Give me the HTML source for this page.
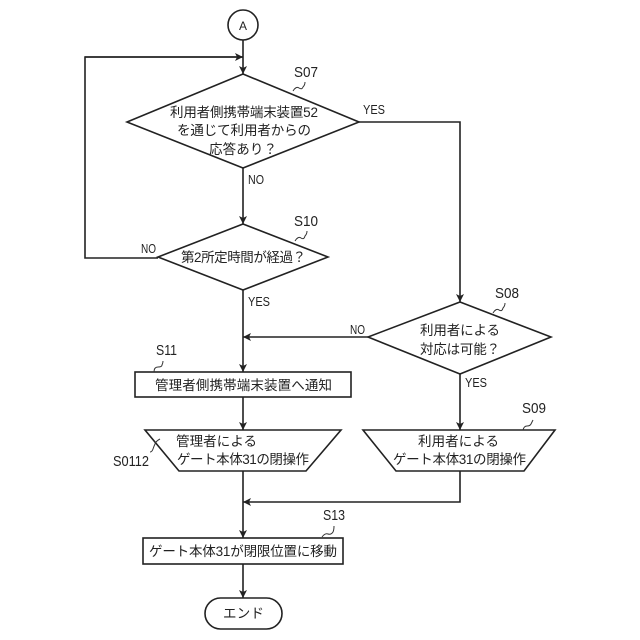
<!DOCTYPE html>
<html><head><meta charset="utf-8"><style>
html,body{margin:0;padding:0;background:#fff}
svg{display:block}
text{font-family:"Liberation Sans","Noto Sans CJK JP",sans-serif;font-size:13.5px;fill:#222}
.s{font-size:15px}
.l{font-size:13px}
.g{fill:none;stroke:#333;stroke-width:1}
.n{fill:#fff;stroke:#222;stroke-width:1.6}
.c{fill:none;stroke:#222;stroke-width:1.6}
</style></head><body>
<svg width="640" height="640" viewBox="0 0 640 640" xmlns="http://www.w3.org/2000/svg">
<defs><marker id="a" markerUnits="userSpaceOnUse" markerWidth="10" markerHeight="10" refX="8" refY="4" orient="auto"><path d="M0 0L8 4L0 8L2 4Z" fill="#222"/></marker></defs>
<path class="c" d="M243 40V74" marker-end="url(#a)"/>
<path class="c" d="M243 57H85V258H158"/>
<path class="c" d="M85 57H243" marker-end="url(#a)"/>
<path class="c" d="M243 168V224" marker-end="url(#a)"/>
<path class="c" d="M359 122H460V302" marker-end="url(#a)"/>
<path class="c" d="M243 290V372" marker-end="url(#a)"/>
<path class="c" d="M368 337H243" marker-end="url(#a)"/>
<path class="c" d="M243 397V430" marker-end="url(#a)"/>
<path class="c" d="M460 374V430" marker-end="url(#a)"/>
<path class="c" d="M243 471V538" marker-end="url(#a)"/>
<path class="c" d="M460 471V502H243" marker-end="url(#a)"/>
<path class="c" d="M243 564V598" marker-end="url(#a)"/>
<circle class="n" cx="243" cy="25" r="15"/>
<polygon class="n" points="243,74 359,122 243,168 127,122"/>
<polygon class="n" points="243,224 328,257 243,290 158,257"/>
<polygon class="n" points="460,302 551,337 460,374 368,337"/>
<rect class="n" x="135" y="372" width="216" height="25"/>
<polygon class="n" points="145,430 341,430 306,471 179,471"/>
<polygon class="n" points="363,430 555,430 524,471 396,471"/>
<rect class="n" x="143" y="538" width="200" height="26"/>
<rect class="n" x="205" y="598" width="77" height="31" rx="15.5"/>
<path class="g" d="M293 91q3-5 6-3t4-1q2-2 2-5"/>
<path class="g" d="M295 241q3-5 6-3t4-2q2-2 2-5"/>
<path class="g" d="M493 313q3-5 6-3t4-2q2-2 2-5"/>
<path class="g" d="M154 372q0-5 4-5t4-2q1-2 1-4"/>
<path class="g" d="M150 452q2 0 3-3t2-5q1-3 5-5"/>
<path class="g" d="M523 430q1-4 4-4t4-2q1-2 2-4"/>
<path class="g" d="M322 537q3-4 6-3t5-2q1-2 1-6"/>
<text x="239" y="30" style="font-size:12px" textLength="8" lengthAdjust="spacingAndGlyphs">A</text>
<text class="s" x="294" y="77" textLength="24" lengthAdjust="spacingAndGlyphs">S07</text>
<text class="s" x="294" y="226" textLength="24" lengthAdjust="spacingAndGlyphs">S10</text>
<text class="s" x="495" y="298" textLength="24" lengthAdjust="spacingAndGlyphs">S08</text>
<text class="s" x="156" y="355" textLength="21" lengthAdjust="spacingAndGlyphs">S11</text>
<text class="s" x="113" y="466" textLength="36" lengthAdjust="spacingAndGlyphs">S0112</text>
<text class="s" x="522" y="413" textLength="24" lengthAdjust="spacingAndGlyphs">S09</text>
<text class="s" x="323" y="520" textLength="22" lengthAdjust="spacingAndGlyphs">S13</text>
<text class="l" x="363" y="114" textLength="22" lengthAdjust="spacingAndGlyphs">YES</text>
<text class="l" x="248" y="184" textLength="16" lengthAdjust="spacingAndGlyphs">NO</text>
<text class="l" x="141" y="253" textLength="15" lengthAdjust="spacingAndGlyphs">NO</text>
<text class="l" x="248" y="306" textLength="22" lengthAdjust="spacingAndGlyphs">YES</text>
<text class="l" x="350" y="334" textLength="15" lengthAdjust="spacingAndGlyphs">NO</text>
<text class="l" x="465" y="387" textLength="22" lengthAdjust="spacingAndGlyphs">YES</text>
<text x="170" y="117" textLength="148">利用者側携帯端末装置52</text>
<text x="177" y="135" textLength="134">を通じて利用者からの</text>
<text x="209" y="154" textLength="68">応答あり？</text>
<text x="181" y="262" textLength="125">第2所定時間が経過？</text>
<text x="420" y="335" textLength="80">利用者による</text>
<text x="420" y="354" textLength="80">対応は可能？</text>
<text x="155" y="390" textLength="177">管理者側携帯端末装置へ通知</text>
<text x="176" y="446" textLength="81">管理者による</text>
<text x="177" y="464" textLength="132">ゲート本体31の閉操作</text>
<text x="418" y="446" textLength="81">利用者による</text>
<text x="393" y="464" textLength="133">ゲート本体31の閉操作</text>
<text x="149" y="556" textLength="188">ゲート本体31が閉限位置に移動</text>
<text x="223" y="618" textLength="41">エンド</text>
</svg>
</body></html>
